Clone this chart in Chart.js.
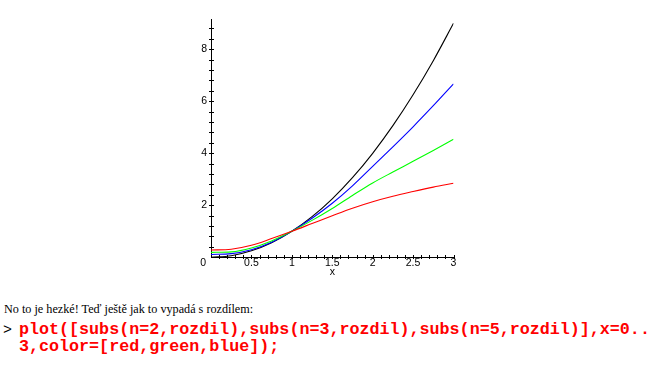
<!DOCTYPE html>
<html>
<head>
<meta charset="utf-8">
<script src="https://cdn.jsdelivr.net/npm/chart.js@4/dist/chart.umd.min.js"></script>
<style>
  html, body { margin: 0; padding: 0; background: #fff; }
  body { width: 656px; height: 366px; position: relative; overflow: hidden; }
  #wrap { position: absolute; left: 0; top: 0; width: 656px; height: 290px; }
  .t1 { position: absolute; left: 4px; top: 302px; font-family: "Liberation Serif", "Times New Roman", serif; font-size: 12.2px; color: #000; white-space: nowrap; }
  .prompt { position: absolute; left: 3px; top: 322px; font-family: "Liberation Mono", monospace; font-size: 15px; color: #000; }
  .code { position: absolute; left: 19px; top: 321px; font-family: "Liberation Mono", "Courier New", monospace; font-weight: bold; font-size: 16.7px; line-height: 17px; color: #ff0000; white-space: pre; }
</style>
</head>
<body>
<div id="wrap"><canvas id="c" width="656" height="290"></canvas></div>
<div class="t1">No to je hezké! Teď ještě jak to vypadá s rozdílem:</div>
<div class="prompt">&gt;</div>
<div class="code">plot([subs(n=2,rozdil),subs(n=3,rozdil),subs(n=5,rozdil)],x=0..
3,color=[red,green,blue]);</div>
<script>
const xValues = [0, 0.25, 0.5, 0.75, 1, 1.25, 1.5, 1.75, 2, 2.25, 2.5, 2.75, 3];
const blackValues = [0, 0.0625, 0.25, 0.5625, 1, 1.5625, 2.25, 3.0625, 4, 5.0625, 6.25, 7.5625, 9];
const blueValues  = [0.11, 0.14, 0.29, 0.58, 1, 1.5, 2.08, 2.75, 3.5, 4.25, 5.02, 5.83, 6.67];
const greenValues = [0.19, 0.21, 0.36, 0.63, 1, 1.42, 1.88, 2.38, 2.86, 3.28, 3.69, 4.11, 4.54];
const redValues   = [0.28, 0.31, 0.46, 0.72, 1, 1.3, 1.6, 1.89, 2.14, 2.35, 2.53, 2.70, 2.85];
const xTickLabels = ["0.5", "1", "1.5", "2", "2.5", "3"];
const yTickLabels = ["2", "4", "6", "8"];
const xAxisTitle = "x";

function pts(vals) { return xValues.map((x, i) => ({ x: x, y: vals[i] })); }

const axesPlugin = {
  id: 'mapleAxes',
  beforeDatasetsDraw(chart) {
    const ctx = chart.ctx;
    const xs = chart.scales.x, ys = chart.scales.y;
    const x0 = xs.getPixelForValue(0), y0 = ys.getPixelForValue(0);
    ctx.save();
    ctx.strokeStyle = '#000';
    ctx.lineWidth = 1;
    ctx.beginPath();
    ctx.moveTo(Math.round(x0) + 0.5, ys.top);
    ctx.lineTo(Math.round(x0) + 0.5, y0 + 0.5);
    ctx.moveTo(x0, Math.round(y0) + 0.5);
    ctx.lineTo(xs.right + 1, Math.round(y0) + 0.5);
    for (let i = 1; i <= 30; i++) {
      const px = Math.round(xs.getPixelForValue(i / 10)) + 0.5;
      ctx.moveTo(px, Math.round(y0) - 2);
      ctx.lineTo(px, Math.round(y0) + 2);
    }
    for (let i = 1; i <= 22; i++) {
      const v = i * 0.4;
      if (v > ys.max) break;
      const py = Math.round(ys.getPixelForValue(v)) + 0.5;
      ctx.moveTo(Math.round(x0) - 2, py);
      ctx.lineTo(Math.round(x0) + 3, py);
    }
    ctx.stroke();
    ctx.fillStyle = '#000';
    ctx.font = '10.5px "Liberation Sans", Arial, sans-serif';
    ctx.textAlign = 'center';
    ctx.textBaseline = 'top';
    xTickLabels.forEach(l => {
      ctx.fillText(l, xs.getPixelForValue(parseFloat(l)), y0 + 1);
    });
    ctx.fillText(xAxisTitle, xs.getPixelForValue(1.5), y0 + 10);
    ctx.textAlign = 'right';
    ctx.textBaseline = 'middle';
    yTickLabels.forEach(l => {
      ctx.fillText(l, x0 - 4, ys.getPixelForValue(parseFloat(l)));
    });
    ctx.fillText('0', x0 - 5, y0 + 6);
    ctx.restore();
  }
};

const mk = (label, vals, color) => ({
  label, data: pts(vals), borderColor: color, backgroundColor: color,
  borderWidth: 1.1, pointRadius: 0, fill: false, cubicInterpolationMode: 'monotone'
});

new Chart(document.getElementById('c'), {
  type: 'line',
  data: {
    datasets: [
      mk('red', redValues, '#ff0000'),
      mk('green', greenValues, '#00ff00'),
      mk('blue', blueValues, '#0000ff'),
      mk('black', blackValues, '#000000')
    ]
  },
  options: {
    responsive: false,
    animation: false,
    devicePixelRatio: 1,
    layout: { padding: { left: 211, right: 656 - 453.5, top: 19, bottom: 290 - 257.3 } },
    plugins: { legend: { display: false }, tooltip: { enabled: false } },
    scales: {
      x: { type: 'linear', min: 0, max: 3, display: false },
      y: { type: 'linear', min: 0, max: 9.165, display: false }
    }
  },
  plugins: [axesPlugin]
});
</script>
</body>
</html>
